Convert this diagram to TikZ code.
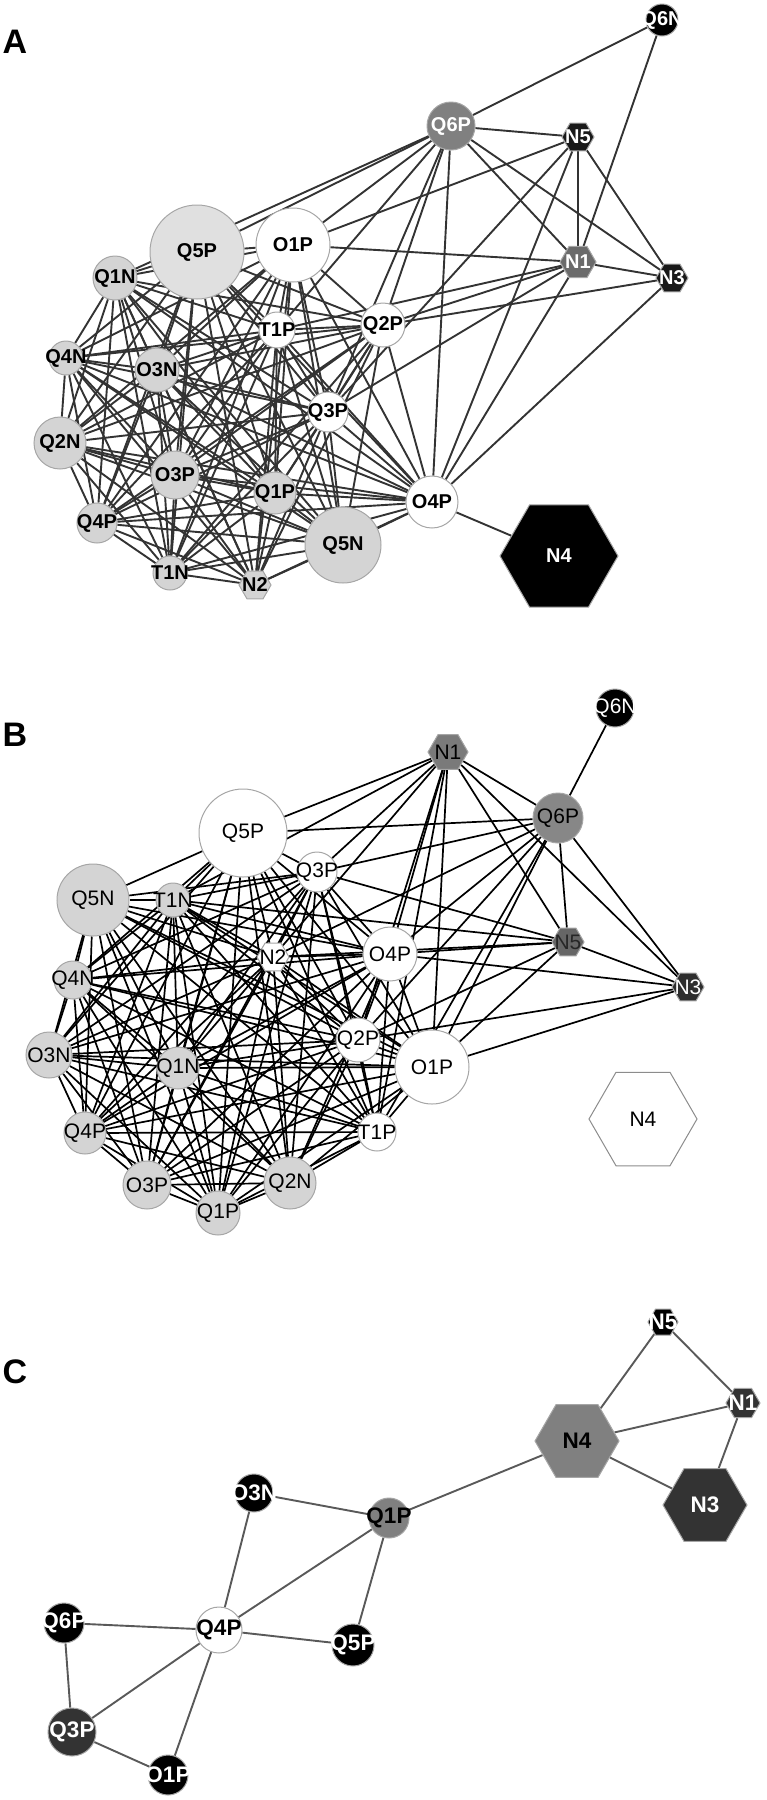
\documentclass[tikz,border=0pt]{standalone}
\usepackage{fontspec}
\setmainfont{Liberation Sans}
\usetikzlibrary{shapes.geometric, backgrounds}
\colorlet{lite}{black!17}
\newcommand{\ctr}[1]{\vbox to 0pt{\vss\hbox to 0pt{\hss#1\hss}\vss}}

\begin{document}
\begin{tikzpicture}[
  x=1pt, y=-1pt,
  circ/.style={circle, draw=black!35, line width=1pt, inner sep=0pt},
  hexa/.style={regular polygon, regular polygon sides=6, draw=black!35,
               line width=1pt, inner sep=0pt},
  fa/.style={font=\fontsize{20}{21}\selectfont\bfseries},
  fb/.style={font=\fontsize{21}{22}\selectfont},
  fc/.style={font=\fontsize{22.5}{23}\selectfont\bfseries},
  panel/.style={font=\fontsize{34}{36}\selectfont\bfseries},
  edgeA/.style={draw=black!80, line width=1.9pt},
  edgeB/.style={draw=black, line width=1.7pt},
  edgeC/.style={draw=black!65, line width=1.9pt}
]
\useasboundingbox (0,0) rectangle (767,1800);

%% Panel A
\node[panel] (lblA) at (15,42) {A};
\node[circ, fa, fill=black!12, minimum size=94pt] (aQ5P) at (197,252) {\ctr{Q5P}};
\node[circ, fa, fill=white, minimum size=74pt] (aO1P) at (293,245) {\ctr{O1P}};
\node[circ, fa, fill=lite, minimum size=44pt] (aQ1N) at (115,278) {\ctr{Q1N}};
\node[circ, fa, fill=black, text=white, minimum size=32pt] (aQ6N) at (662,20) {\ctr{Q6N}};
\node[circ, fa, fill=black!50, text=white, minimum size=48pt] (aQ6P) at (451,126) {\ctr{Q6P}};
\node[hexa, fa, fill=black!90, text=white, minimum size=32pt] (aN5) at (578,137) {\ctr{N5}};
\node[hexa, fa, fill=black!58, text=white, minimum size=36pt] (aN1) at (578,262) {\ctr{N1}};
\node[hexa, fa, fill=black!90, text=white, minimum size=32pt] (aN3) at (672,278) {\ctr{N3}};
\node[circ, fa, fill=white, minimum size=36pt] (aT1P) at (277,330) {\ctr{T1P}};
\node[circ, fa, fill=white, minimum size=44pt] (aQ2P) at (383,325) {\ctr{Q2P}};
\node[circ, fa, fill=lite, minimum size=34pt] (aQ4N) at (66,358) {\ctr{Q4N}};
\node[circ, fa, fill=lite, minimum size=44pt] (aO3N) at (157,370) {\ctr{O3N}};
\node[circ, fa, fill=white, minimum size=40pt] (aQ3P) at (328,412) {\ctr{Q3P}};
\node[circ, fa, fill=lite, minimum size=52pt] (aQ2N) at (60,443) {\ctr{Q2N}};
\node[circ, fa, fill=lite, minimum size=48pt] (aO3P) at (175,475) {\ctr{O3P}};
\node[circ, fa, fill=lite, minimum size=42pt] (aQ1P) at (275,493) {\ctr{Q1P}};
\node[circ, fa, fill=lite, minimum size=40pt] (aQ4P) at (97,523) {\ctr{Q4P}};
\node[circ, fa, fill=lite, minimum size=76pt] (aQ5N) at (343,545) {\ctr{Q5N}};
\node[circ, fa, fill=lite, minimum size=34pt] (aT1N) at (170,573) {\ctr{T1N}};
\node[hexa, fa, fill=lite, minimum size=32pt] (aN2) at (255,585) {\ctr{N2}};
\node[circ, fa, fill=white, minimum size=52pt] (aO4P) at (432,502) {\ctr{O4P}};
\node[hexa, fa, fill=black, text=white, minimum size=118pt] (aN4) at (559,556) {\ctr{N4}};

\def\clusterA{Q5P,O1P,Q1N,T1P,Q2P,Q4N,O3N,Q3P,Q2N,O3P,Q1P,Q4P,Q5N,T1N,N2,O4P}
\begin{pgfonlayer}{background}
\foreach \u [count=\i] in \clusterA {
  \foreach \v [count=\j] in \clusterA {
    \ifnum\j>\i \draw[edgeA] (a\u) -- (a\v); \fi
  }
}
\foreach \u/\v in {Q6N/Q6P, Q6N/N1, Q6P/N5, Q6P/N1, Q6P/N3, Q6P/Q5P,
    Q6P/O1P, Q6P/T1P, Q6P/Q2P, Q6P/Q3P, Q6P/O4P, Q6P/Q1N, N5/N1, N5/N3,
    N5/O1P, N5/Q3P, N5/O4P, N1/N3, N1/O1P, N1/Q2P, N1/T1P, N1/Q3P,
    N1/O4P, N3/Q2P, N3/O4P, O4P/N4}
  \draw[edgeA] (a\u) -- (a\v);
\end{pgfonlayer}

%% Panel B
\node[panel] (lblB) at (15,735) {B};
\node[circ, fb, fill=white, minimum size=88pt] (bQ5P) at (243,833) {\ctr{Q5P}};
\node[circ, fb, fill=lite, minimum size=72pt] (bQ5N) at (93,900) {\ctr{Q5N}};
\node[circ, fb, fill=lite, minimum size=34pt] (bT1N) at (173,900) {\ctr{T1N}};
\node[circ, fb, fill=white, minimum size=40pt] (bQ3P) at (317,872) {\ctr{Q3P}};
\node[circ, fb, fill=black, text=white, minimum size=38pt] (bQ6N) at (615,708) {\ctr{Q6N}};
\node[hexa, fb, fill=black!52, minimum size=40pt] (bN1) at (448,752) {\ctr{N1}};
\node[circ, fb, fill=black!47, minimum size=50pt] (bQ6P) at (558,818) {\ctr{Q6P}};
\node[hexa, fb, fill=black!60, text=black!85, minimum size=32pt] (bN5) at (568,942) {\ctr{N5}};
\node[hexa, fb, fill=black!82, text=white, minimum size=32pt] (bN3) at (688,987) {\ctr{N3}};
\node[circ, fb, fill=white, minimum size=54pt] (bO4P) at (390,954) {\ctr{O4P}};
\node[circ, fb, fill=white, minimum size=74pt] (bO1P) at (432,1067) {\ctr{O1P}};
\node[hexa, fb, fill=white, draw=black!45, minimum size=108pt] (bN4) at (643,1119) {\ctr{N4}};
\node[hexa, fb, fill=white, minimum size=32pt] (bN2) at (273,957) {\ctr{N2}};
\node[circ, fb, fill=lite, minimum size=38pt] (bQ4N) at (73,980) {\ctr{Q4N}};
\node[circ, fb, fill=white, minimum size=44pt] (bQ2P) at (358,1040) {\ctr{Q2P}};
\node[circ, fb, fill=lite, minimum size=46pt] (bO3N) at (49,1055) {\ctr{O3N}};
\node[circ, fb, fill=lite, minimum size=42pt] (bQ1N) at (178,1068) {\ctr{Q1N}};
\node[circ, fb, fill=lite, minimum size=42pt] (bQ4P) at (85,1133) {\ctr{Q4P}};
\node[circ, fb, fill=white, minimum size=38pt] (bT1P) at (377,1132) {\ctr{T1P}};
\node[circ, fb, fill=lite, minimum size=48pt] (bO3P) at (147,1185) {\ctr{O3P}};
\node[circ, fb, fill=lite, minimum size=52pt] (bQ2N) at (290,1183) {\ctr{Q2N}};
\node[circ, fb, fill=lite, minimum size=44pt] (bQ1P) at (218,1213) {\ctr{Q1P}};

\def\clusterB{Q5P,Q5N,T1N,Q3P,N2,Q4N,O3N,Q1N,Q4P,O3P,Q1P,Q2N,T1P,Q2P,O4P,O1P}
\begin{pgfonlayer}{background}
\foreach \u [count=\i] in \clusterB {
  \foreach \v [count=\j] in \clusterB {
    \ifnum\j>\i \draw[edgeB] (b\u) -- (b\v); \fi
  }
}
\foreach \u/\v in {Q6N/Q6P, Q6P/N1, Q6P/N5, Q6P/N3, Q6P/Q5P, Q6P/Q3P,
    Q6P/N2, Q6P/O4P, Q6P/Q2P, Q6P/O1P, Q6P/T1P, N1/N5, N1/N3, N1/Q5P,
    N1/Q3P, N1/T1N, N1/N2, N1/O4P, N1/Q2P, N1/O1P, N1/T1P, N5/N3,
    N5/O4P, N5/O1P, N5/Q2P, N5/Q3P, N5/T1N, N5/N2, N3/O4P, N3/O1P, N3/Q2P}
  \draw[edgeB] (b\u) -- (b\v);
\end{pgfonlayer}

%% Panel C
\node[panel] (lblC) at (15,1372) {C};
\node[circ, fc, fill=black, text=white, minimum size=38pt] (cO3N) at (254,1493) {\ctr{O3N}};
\node[circ, fc, fill=black!50, minimum size=40pt] (cQ1P) at (389,1518) {\ctr{Q1P}};
\node[circ, fc, fill=black, text=white, minimum size=40pt] (cQ6P) at (64,1623) {\ctr{Q6P}};
\node[circ, fc, fill=white, minimum size=46pt] (cQ4P) at (219,1630) {\ctr{Q4P}};
\node[circ, fc, fill=black, text=white, minimum size=42pt] (cQ5P) at (353,1645) {\ctr{Q5P}};
\node[circ, fc, fill=black!80, text=white, minimum size=48pt] (cQ3P) at (72,1732) {\ctr{Q3P}};
\node[circ, fc, fill=black, text=white, minimum size=40pt] (cO1P) at (168,1775) {\ctr{O1P}};
\node[hexa, fc, fill=black, text=white, minimum size=30pt] (cN5) at (663,1322) {\ctr{N5}};
\node[hexa, fc, fill=black!80, text=white, minimum size=34pt] (cN1) at (743,1403) {\ctr{N1}};
\node[hexa, fc, fill=black!50, minimum size=84pt] (cN4) at (577,1441) {\ctr{N4}};
\node[hexa, fc, fill=black!80, text=white, minimum size=84pt] (cN3) at (705,1505) {\ctr{N3}};

\begin{pgfonlayer}{background}
\foreach \u/\v in {O3N/Q1P, O3N/Q4P, Q1P/Q4P, Q1P/Q5P, Q1P/N4, Q4P/Q6P,
    Q4P/Q5P, Q4P/Q3P, Q4P/O1P, Q6P/Q3P, Q3P/O1P, N4/N5, N4/N1, N4/N3,
    N5/N1, N1/N3}
  \draw[edgeC] (c\u) -- (c\v);
\end{pgfonlayer}

\end{tikzpicture}
\end{document}
